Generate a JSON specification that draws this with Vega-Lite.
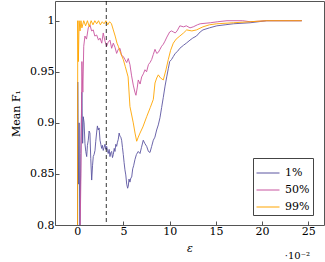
{
  "$schema": "https://vega.github.io/schema/vega-lite/v6.json",
  "autosize": {"type": "none"},
  "padding": {"left": 55, "top": 1, "right": 1, "bottom": 37},
  "width": 269,
  "height": 224,
  "background": "white",
  "config": {
    "font": "DejaVu Serif",
    "view": {"stroke": "#555555", "strokeWidth": 1},
    "axis": {"domain": false, "grid": false, "labelFont": "DejaVu Serif", "titleFont": "DejaVu Serif", "labelFontSize": 11, "titleFontSize": 11, "labelColor": "#000000", "titleColor": "#000000", "titleFontWeight": "normal", "tickColor": "#555555"},
    "legend": {"labelFont": "DejaVu Serif"}
  },
  "title": {"text": "·10⁻²", "orient": "bottom", "anchor": "end", "font": "DejaVu Serif", "fontSize": 10, "fontWeight": "normal", "color": "#000000", "offset": -2, "dx": -14},
  "datasets": {
    "curves": [
      {"s":"1%","x":0,"y":0.5},{"s":"1%","x":0.05,"y":0.94},{"s":"1%","x":0.12,"y":0.84},{"s":"1%","x":0.2,"y":0.9},{"s":"1%","x":0.28,"y":0.78},{"s":"1%","x":0.38,"y":0.87},{"s":"1%","x":0.5,"y":0.93},{"s":"1%","x":0.58,"y":0.88},{"s":"1%","x":0.65,"y":0.906},{"s":"1%","x":0.74,"y":0.9},{"s":"1%","x":0.83,"y":0.88},{"s":"1%","x":0.92,"y":0.872},{"s":"1%","x":1.02,"y":0.867},{"s":"1%","x":1.1,"y":0.878},{"s":"1%","x":1.19,"y":0.883},{"s":"1%","x":1.28,"y":0.892},{"s":"1%","x":1.37,"y":0.89},{"s":"1%","x":1.46,"y":0.865},{"s":"1%","x":1.56,"y":0.844},{"s":"1%","x":1.65,"y":0.858},{"s":"1%","x":1.73,"y":0.867},{"s":"1%","x":1.82,"y":0.869},{"s":"1%","x":1.92,"y":0.873},{"s":"1%","x":2.0,"y":0.882},{"s":"1%","x":2.1,"y":0.891},{"s":"1%","x":2.18,"y":0.897},{"s":"1%","x":2.27,"y":0.893},{"s":"1%","x":2.36,"y":0.895},{"s":"1%","x":2.46,"y":0.883},{"s":"1%","x":2.55,"y":0.879},{"s":"1%","x":2.64,"y":0.875},{"s":"1%","x":2.72,"y":0.878},{"s":"1%","x":2.81,"y":0.873},{"s":"1%","x":2.9,"y":0.876},{"s":"1%","x":3.0,"y":0.879},{"s":"1%","x":3.09,"y":0.874},{"s":"1%","x":3.18,"y":0.877},{"s":"1%","x":3.27,"y":0.873},{"s":"1%","x":3.35,"y":0.87},{"s":"1%","x":3.45,"y":0.874},{"s":"1%","x":3.54,"y":0.867},{"s":"1%","x":3.63,"y":0.871},{"s":"1%","x":3.72,"y":0.872},{"s":"1%","x":3.81,"y":0.866},{"s":"1%","x":3.9,"y":0.869},{"s":"1%","x":4.0,"y":0.875},{"s":"1%","x":4.08,"y":0.872},{"s":"1%","x":4.17,"y":0.879},{"s":"1%","x":4.26,"y":0.877},{"s":"1%","x":4.35,"y":0.881},{"s":"1%","x":4.44,"y":0.884},{"s":"1%","x":4.53,"y":0.89},{"s":"1%","x":4.62,"y":0.887},{"s":"1%","x":4.71,"y":0.886},{"s":"1%","x":4.8,"y":0.883},{"s":"1%","x":4.89,"y":0.876},{"s":"1%","x":4.98,"y":0.869},{"s":"1%","x":5.07,"y":0.861},{"s":"1%","x":5.16,"y":0.854},{"s":"1%","x":5.25,"y":0.849},{"s":"1%","x":5.35,"y":0.84},{"s":"1%","x":5.45,"y":0.836},{"s":"1%","x":5.52,"y":0.838},{"s":"1%","x":5.6,"y":0.845},{"s":"1%","x":5.7,"y":0.842},{"s":"1%","x":5.8,"y":0.846},{"s":"1%","x":5.89,"y":0.847},{"s":"1%","x":6.0,"y":0.855},{"s":"1%","x":6.1,"y":0.858},{"s":"1%","x":6.24,"y":0.864},{"s":"1%","x":6.4,"y":0.869},{"s":"1%","x":6.6,"y":0.872},{"s":"1%","x":6.79,"y":0.87},{"s":"1%","x":6.95,"y":0.876},{"s":"1%","x":7.14,"y":0.883},{"s":"1%","x":7.3,"y":0.88},{"s":"1%","x":7.51,"y":0.877},{"s":"1%","x":7.7,"y":0.872},{"s":"1%","x":7.87,"y":0.871},{"s":"1%","x":8.05,"y":0.877},{"s":"1%","x":8.23,"y":0.883},{"s":"1%","x":8.4,"y":0.886},{"s":"1%","x":8.59,"y":0.893},{"s":"1%","x":8.77,"y":0.898},{"s":"1%","x":8.95,"y":0.905},{"s":"1%","x":9.13,"y":0.915},{"s":"1%","x":9.31,"y":0.925},{"s":"1%","x":9.5,"y":0.936},{"s":"1%","x":9.68,"y":0.945},{"s":"1%","x":9.85,"y":0.953},{"s":"1%","x":10.0,"y":0.96},{"s":"1%","x":10.2,"y":0.962},{"s":"1%","x":10.4,"y":0.965},{"s":"1%","x":10.6,"y":0.968},{"s":"1%","x":10.85,"y":0.97},{"s":"1%","x":11.1,"y":0.973},{"s":"1%","x":11.5,"y":0.976},{"s":"1%","x":11.8,"y":0.978},{"s":"1%","x":12.2,"y":0.981},{"s":"1%","x":12.5,"y":0.983},{"s":"1%","x":12.9,"y":0.985},{"s":"1%","x":13.3,"y":0.989},{"s":"1%","x":13.6,"y":0.991},{"s":"1%","x":14.3,"y":0.993},{"s":"1%","x":15.1,"y":0.995},{"s":"1%","x":16.0,"y":0.996},{"s":"1%","x":16.9,"y":0.997},{"s":"1%","x":18.7,"y":0.998},{"s":"1%","x":20.5,"y":1.0},{"s":"1%","x":24.3,"y":1.0},

      {"s":"50%","x":0,"y":0.3},{"s":"50%","x":0.3,"y":0.79},{"s":"50%","x":0.4,"y":0.85},{"s":"50%","x":0.5,"y":0.96},{"s":"50%","x":0.6,"y":0.93},{"s":"50%","x":0.7,"y":0.975},{"s":"50%","x":0.83,"y":0.985},{"s":"50%","x":1.0,"y":0.982},{"s":"50%","x":1.19,"y":0.993},{"s":"50%","x":1.37,"y":0.996},{"s":"50%","x":1.55,"y":0.99},{"s":"50%","x":1.73,"y":0.991},{"s":"50%","x":1.9,"y":0.985},{"s":"50%","x":2.1,"y":0.986},{"s":"50%","x":2.3,"y":0.981},{"s":"50%","x":2.46,"y":0.983},{"s":"50%","x":2.65,"y":0.978},{"s":"50%","x":2.81,"y":0.988},{"s":"50%","x":3.0,"y":0.98},{"s":"50%","x":3.18,"y":0.975},{"s":"50%","x":3.35,"y":0.979},{"s":"50%","x":3.54,"y":0.981},{"s":"50%","x":3.72,"y":0.973},{"s":"50%","x":3.9,"y":0.978},{"s":"50%","x":4.08,"y":0.974},{"s":"50%","x":4.26,"y":0.968},{"s":"50%","x":4.44,"y":0.972},{"s":"50%","x":4.62,"y":0.973},{"s":"50%","x":4.8,"y":0.966},{"s":"50%","x":4.98,"y":0.965},{"s":"50%","x":5.16,"y":0.962},{"s":"50%","x":5.35,"y":0.959},{"s":"50%","x":5.52,"y":0.963},{"s":"50%","x":5.7,"y":0.957},{"s":"50%","x":5.88,"y":0.946},{"s":"50%","x":6.06,"y":0.937},{"s":"50%","x":6.24,"y":0.93},{"s":"50%","x":6.35,"y":0.927},{"s":"50%","x":6.5,"y":0.935},{"s":"50%","x":6.6,"y":0.942},{"s":"50%","x":6.8,"y":0.938},{"s":"50%","x":6.97,"y":0.945},{"s":"50%","x":7.15,"y":0.948},{"s":"50%","x":7.33,"y":0.952},{"s":"50%","x":7.5,"y":0.95},{"s":"50%","x":7.7,"y":0.957},{"s":"50%","x":7.87,"y":0.959},{"s":"50%","x":8.05,"y":0.962},{"s":"50%","x":8.23,"y":0.967},{"s":"50%","x":8.41,"y":0.972},{"s":"50%","x":8.6,"y":0.968},{"s":"50%","x":8.77,"y":0.969},{"s":"50%","x":8.95,"y":0.972},{"s":"50%","x":9.13,"y":0.975},{"s":"50%","x":9.31,"y":0.977},{"s":"50%","x":9.49,"y":0.98},{"s":"50%","x":9.7,"y":0.984},{"s":"50%","x":10.0,"y":0.989},{"s":"50%","x":10.2,"y":0.99},{"s":"50%","x":10.4,"y":0.989},{"s":"50%","x":10.6,"y":0.988},{"s":"50%","x":10.8,"y":0.99},{"s":"50%","x":11.1,"y":0.995},{"s":"50%","x":11.5,"y":0.994},{"s":"50%","x":11.8,"y":0.995},{"s":"50%","x":12.2,"y":0.993},{"s":"50%","x":12.55,"y":0.994},{"s":"50%","x":13.0,"y":0.996},{"s":"50%","x":13.3,"y":0.997},{"s":"50%","x":14.4,"y":0.998},{"s":"50%","x":15.2,"y":0.999},{"s":"50%","x":16.2,"y":1.0},{"s":"50%","x":17.9,"y":1.0},{"s":"50%","x":18.7,"y":0.999},{"s":"50%","x":20.5,"y":1.0},{"s":"50%","x":24.3,"y":1.0},

      {"s":"99%","x":0,"y":0.5},{"s":"99%","x":0.05,"y":1.0},{"s":"99%","x":0.12,"y":0.96},{"s":"99%","x":0.2,"y":1.0},{"s":"99%","x":0.3,"y":0.99},{"s":"99%","x":0.4,"y":1.0},{"s":"99%","x":0.5,"y":0.993},{"s":"99%","x":0.7,"y":1.0},{"s":"99%","x":0.9,"y":0.995},{"s":"99%","x":1.1,"y":1.0},{"s":"99%","x":1.3,"y":0.994},{"s":"99%","x":1.5,"y":1.0},{"s":"99%","x":1.7,"y":0.996},{"s":"99%","x":1.9,"y":1.0},{"s":"99%","x":2.1,"y":0.997},{"s":"99%","x":2.3,"y":1.0},{"s":"99%","x":2.5,"y":0.996},{"s":"99%","x":2.7,"y":0.999},{"s":"99%","x":2.9,"y":0.997},{"s":"99%","x":3.1,"y":1.0},{"s":"99%","x":3.3,"y":0.996},{"s":"99%","x":3.5,"y":0.999},{"s":"99%","x":3.7,"y":0.997},{"s":"99%","x":3.9,"y":0.991},{"s":"99%","x":4.1,"y":0.985},{"s":"99%","x":4.3,"y":0.978},{"s":"99%","x":4.44,"y":0.975},{"s":"99%","x":4.7,"y":0.968},{"s":"99%","x":4.98,"y":0.962},{"s":"99%","x":5.2,"y":0.955},{"s":"99%","x":5.5,"y":0.945},{"s":"99%","x":5.7,"y":0.916},{"s":"99%","x":6.06,"y":0.9},{"s":"99%","x":6.25,"y":0.89},{"s":"99%","x":6.43,"y":0.882},{"s":"99%","x":6.6,"y":0.886},{"s":"99%","x":6.79,"y":0.89},{"s":"99%","x":7.1,"y":0.896},{"s":"99%","x":7.51,"y":0.906},{"s":"99%","x":7.9,"y":0.915},{"s":"99%","x":8.23,"y":0.923},{"s":"99%","x":8.41,"y":0.939},{"s":"99%","x":8.6,"y":0.944},{"s":"99%","x":8.77,"y":0.947},{"s":"99%","x":9.0,"y":0.944},{"s":"99%","x":9.31,"y":0.942},{"s":"99%","x":9.6,"y":0.952},{"s":"99%","x":9.85,"y":0.962},{"s":"99%","x":10.1,"y":0.971},{"s":"99%","x":10.39,"y":0.978},{"s":"99%","x":10.7,"y":0.982},{"s":"99%","x":11.1,"y":0.985},{"s":"99%","x":11.5,"y":0.988},{"s":"99%","x":11.84,"y":0.991},{"s":"99%","x":12.4,"y":0.99},{"s":"99%","x":12.9,"y":0.991},{"s":"99%","x":13.6,"y":0.994},{"s":"99%","x":14.3,"y":0.996},{"s":"99%","x":15.1,"y":0.997},{"s":"99%","x":16.9,"y":0.998},{"s":"99%","x":18.7,"y":0.999},{"s":"99%","x":20.5,"y":1.0},{"s":"99%","x":24.3,"y":1.0}
    ],
    "marker": [{"x": 3.14}]
  },
  "layer": [
    {
      "data": {"name": "curves"},
      "mark": {"type": "line", "strokeWidth": 0.9, "clip": true},
      "encoding": {
        "x": {"field": "x", "type": "quantitative", "scale": {"domain": [-2.41, 26.7], "nice": false, "zero": false},
              "axis": {"values": [0, 5, 10, 15, 20, 25], "title": "ε", "titleFontStyle": "italic", "tickSize": -4, "labelPadding": 4, "titlePadding": 6}},
        "y": {"field": "y", "type": "quantitative", "scale": {"domain": [0.8, 1.0193], "nice": false, "zero": false},
              "axis": {"values": [0.8, 0.85, 0.9, 0.95, 1.0], "format": ".2~f", "title": "Mean F₁", "tickSize": -4, "labelPadding": 5, "titlePadding": 8}},
        "color": {"field": "s", "type": "nominal", "sort": ["1%", "50%", "99%"],
                  "scale": {"domain": ["1%", "50%", "99%"], "range": ["#5b55a0", "#c8559f", "#ffa500"]},
                  "legend": {"title": null, "orient": "none", "legendX": 198, "legendY": 157, "symbolType": "stroke", "symbolSize": 529, "symbolStrokeWidth": 1, "strokeColor": "#444444", "fillColor": "white", "padding": 3, "labelFontSize": 11, "labelColor": "#000000", "rowPadding": 0, "labelOffset": 5, "labelAlign": "left"}}
      }
    },
    {
      "data": {"name": "marker"},
      "mark": {"type": "rule", "strokeDash": [4, 3], "color": "#000000", "strokeWidth": 0.8},
      "encoding": {"x": {"field": "x", "type": "quantitative"}}
    }
  ]
}
